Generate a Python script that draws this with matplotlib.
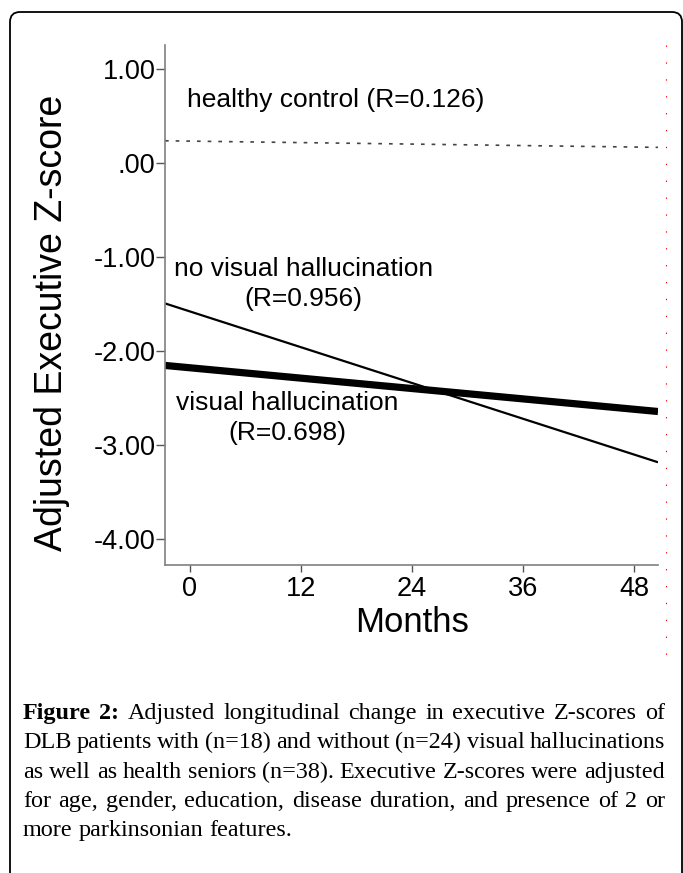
import matplotlib
matplotlib.use("Agg")
import matplotlib.pyplot as plt
from matplotlib.lines import Line2D
from matplotlib.patches import FancyBboxPatch

# ось X: месяцы, ось Y: скорректированный Z-score
month_ticks = [0, 12, 24, 36, 48]
z_ticks = [1, 0, -1, -2, -3, -4]
z_tick_labels = ["1.00", ".00", "-1.00", "-2.00", "-3.00", "-4.00"]

# линии регрессии: значения на левом и правом краю оси
fit_months = [-2.7, 50.6]
healthy = [0.24, 0.17]
no_vh = [-1.49, -3.18]
vh = [-2.15, -2.64]

caption_lines = [
    ["Figure", "2:", "Adjusted", "longitudinal", "change", "in", "executive", "Z-scores", "of"],
    "DLB patients with (n=18) and without (n=24) visual hallucinations".split(),
    "as well as health seniors (n=38). Executive Z-scores were adjusted".split(),
    "for age, gender, education, disease duration, and presence of 2 or".split(),
    "more parkinsonian features.".split(),
]
bold_words = 2

W, H = 683, 873
plt.rcParams["font.family"] = ["Liberation Sans", "DejaVu Sans"]

fig = plt.figure(figsize=(W / 100, H / 100), dpi=100)
ax = fig.add_axes([165 / W, 1 - 565 / H, (658 - 165) / W, (565 - 45) / H])

ax.plot(fit_months, healthy, color="#444444", lw=1.2, linestyle=(0, (2.2, 4.2)))
ax.plot(fit_months, no_vh, color="black", lw=1.6, solid_capstyle="butt")
ax.plot(fit_months, vh, color="black", lw=5.2, solid_capstyle="butt")

ax.set_xlim(fit_months)
ax.set_ylim(-4.273, 1.259)
ax.set_xticks(month_ticks)
ax.set_yticks(z_ticks, z_tick_labels)
for s in ("top", "right"):
    ax.spines[s].set_visible(False)
for s in ("left", "bottom"):
    ax.spines[s].set_color("#808080")
    ax.spines[s].set_linewidth(1.2)
ax.tick_params(axis="y", length=6.5, width=1.0, color="#555555", pad=0.5, labelsize=19.5)
ax.tick_params(axis="x", length=5, width=1.0, color="#555555", pad=3, labelsize=19.5)

ax.text(-0.35, 0.67, "healthy control (R=0.126)", fontsize=19, va="center", ha="left")
ax.text(12.3, -1.28, "no visual hallucination\n(R=0.956)", fontsize=19,
        va="center", ha="center", linespacing=1.32, multialignment="center")
ax.text(10.5, -2.71, "visual hallucination\n(R=0.698)", fontsize=19,
        va="center", ha="center", linespacing=1.32, multialignment="center")

fig.text(52 / W, 1 - 323 / H, "Adjusted Executive Z-score", rotation=90,
         ha="center", va="center", fontsize=27)
fig.text(412 / W, 1 - 622 / H, "Months", ha="center", va="center", fontsize=25)

# красная пунктирная линия справа (артефакт исходника)
fig.add_artist(Line2D([666 / W] * 2, [1 - 45 / H, 1 - 668 / H], transform=fig.transFigure,
                      color="red", lw=0.8, linestyle=(0, (1.2, 14))))

# рамка вокруг рисунка
frame = FancyBboxPatch((0.10, -0.3), 6.72, 8.61 + 0.3, boxstyle="round,pad=0,rounding_size=0.1",
                       transform=fig.dpi_scale_trans, fc="none", ec="black", lw=1.3, clip_on=False)
fig.add_artist(frame)

# подпись с выравниванием по ширине
renderer = fig.canvas.get_renderer()
left, right = 23, 665
base0, step = 719, 29.3
fs = 17.4
for i, words in enumerate(caption_lines):
    y = 1 - (base0 + i * step) / H
    texts = []
    for j, w in enumerate(words):
        bold = i == 0 and j < bold_words
        t = fig.text(0, y, w, fontsize=fs, va="baseline", ha="left",
                     family=["Liberation Serif", "DejaVu Serif"],
                     fontweight="bold" if bold else "normal")
        texts.append(t)
    widths = [t.get_window_extent(renderer).width for t in texts]
    if i < len(caption_lines) - 1:
        gap = (right - left - sum(widths)) / (len(texts) - 1)
    else:
        gap = 0.25 * fs * 100 / 72
    x = left
    for t, wd in zip(texts, widths):
        t.set_x(x / W)
        x += wd + gap

fig.savefig("out.png", dpi=100)
